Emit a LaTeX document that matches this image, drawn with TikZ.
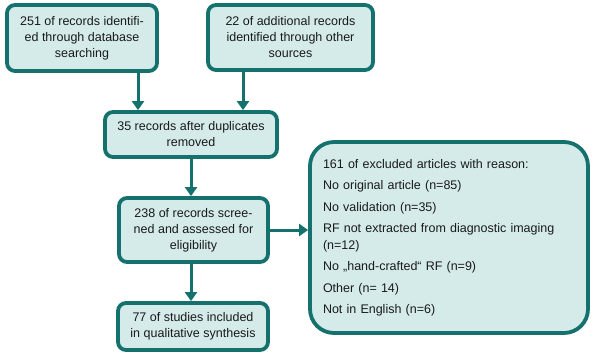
\documentclass[tikz,border=0pt]{standalone}
\usepackage{fontspec}
\setmainfont{Liberation Sans}
\usetikzlibrary{arrows.meta}
\definecolor{tealdark}{HTML}{15716D}
\definecolor{tealfill}{HTML}{D4EBEA}
\definecolor{txt}{HTML}{1A1A1A}
\begin{document}
\begin{tikzpicture}[x=1pt,y=-1pt,
  box/.style={draw=tealdark, fill=tealfill, line width=3.8pt, rounded corners=8pt,
    align=center, text=txt, inner sep=2pt,
    font=\fontsize{12.5pt}{16pt}\selectfont},
  bigbox/.style={box, rounded corners=24pt, align=left, inner xsep=13pt},
  arr/.style={draw=tealdark, line width=3pt, -{Triangle[width=12pt,length=9pt]}}]
\useasboundingbox (0,0) rectangle (593,357);
\fill[white] (0,0) rectangle (593,357);

\node[box, minimum width=150pt, minimum height=66pt] (b1) at (82,38)
  {251 of records identifi-\\ed through database\\searching};
\node[box, minimum width=165pt, minimum height=65pt] (b2) at (290.5,37.5)
  {22 of additional records\\identified through other\\sources};
\node[box, minimum width=172pt, minimum height=45pt] (b3) at (191,134.5)
  {35 records after duplicates\\removed};
\node[box, minimum width=149pt, minimum height=64pt] (b4) at (193.5,230)
  {238 of records scree-\\ned and assessed for\\eligibility};
\node[box, minimum width=150pt, minimum height=47pt] (b5) at (193,326.5)
  {77 of studies included\\in qualitative synthesis};
\node[bigbox, minimum width=278pt, text width=252pt, minimum height=191pt] (b6) at (449,237.5)
  {\fontsize{12.5pt}{16.5pt}\selectfont
   161 of excluded articles with reason:\\[5pt]
   No original article (n=85)\\[5pt]
   No validation (n=35)\\[5pt]
   RF not extracted from diagnostic imaging\\
   (n=12)\\[5pt]
   No „hand-crafted“ RF (n=9)\\[5pt]
   Other (n= 14)\\[5pt]
   Not in English (n=6)};

\draw[arr] ([xshift=56pt]b1.south) -- ([xshift=56pt]b1.south |- b3.north);
\draw[arr] ([xshift=-47.5pt]b2.south) -- ([xshift=-47.5pt]b2.south |- b3.north);
\draw[arr] (b3.south) -- (b3.south |- b4.north);
\draw[arr] (b4.south -| b3.south) -- (b3.south |- b5.north);
\draw[arr] (b4.east) -- (b4.east -| b6.west);
\end{tikzpicture}
\end{document}
